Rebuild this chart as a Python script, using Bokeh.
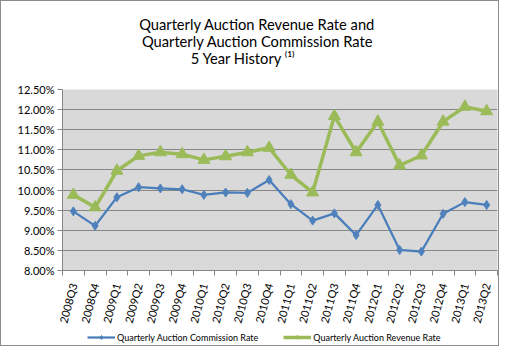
from bokeh.plotting import figure
from bokeh.layouts import column
from bokeh.models import (Range1d, FixedTicker, PrintfTickFormatter, Legend, LegendItem, Label)
from bokeh.embed import file_html
from bokeh.resources import INLINE

quarters = ["2008Q3", "2008Q4", "2009Q1", "2009Q2", "2009Q3", "2009Q4",
            "2010Q1", "2010Q2", "2010Q3", "2010Q4", "2011Q1", "2011Q2",
            "2011Q3", "2011Q4", "2012Q1", "2012Q2", "2012Q3", "2012Q4",
            "2013Q1", "2013Q2"]
commission_rate = [9.47, 9.11, 9.82, 10.07, 10.04, 10.02, 9.88, 9.94, 9.93, 10.25,
                   9.65, 9.24, 9.42, 8.88, 9.63, 8.51, 8.47, 9.41, 9.70, 9.63]
revenue_rate = [9.88, 9.57, 10.48, 10.85, 10.94, 10.89, 10.75, 10.84, 10.94, 11.05,
                10.38, 9.94, 11.84, 10.94, 11.70, 10.61, 10.86, 11.70, 12.07, 11.96]
y_ticks = [8.0, 8.5, 9.0, 9.5, 10.0, 10.5, 11.0, 11.5, 12.0, 12.5]
title_lines = ["Quarterly Auction Revenue Rate and",
               "Quarterly Auction Commission Rate",
               "5 Year History \u207d\u00b9\u207e"]
series_names = ["Quarterly Auction Commission Rate", "Quarterly Auction Revenue Rate"]

FONT = "Lato"
GRID = "#868686"
BLUE = "#4A7EBB"
BLUE_M = "#4F81BD"
GREEN = "#9BBB59"
W = 497
BORDERS = dict(min_border_left=61, min_border_right=1)

x = list(range(len(quarters)))
xr = Range1d(-0.5, len(quarters) - 0.5)

# ---- title strip (shares the chart's x range, so frames line up) ----
tp = figure(width=W, height=80, output_backend="svg", toolbar_location=None,
            x_range=xr, y_range=Range1d(80, 0),
            x_axis_type=None, y_axis_type=None,
            min_border_top=0, min_border_bottom=0, **BORDERS)
tp.grid.grid_line_color = None
tp.outline_line_color = None
tp.background_fill_color = "white"
tp.border_fill_color = "white"
title_x = [8.45, 8.47, 7.81]
title_y = [22, 39, 56]
for t, tx, ty in zip(title_lines, title_x, title_y):
    tp.add_layout(Label(x=tx, y=ty, text=t, text_align="center", text_baseline="middle",
                        text_font=FONT, text_font_size="14.7px", text_color="black"))

# ---- main chart ----
p = figure(width=W, height=248, output_backend="svg", toolbar_location=None,
           x_range=xr, y_range=Range1d(8.0, 12.5),
           min_border_top=8, min_border_bottom=56, **BORDERS)
p.background_fill_color = "#D9D9D9"
p.border_fill_color = "white"
p.outline_line_color = None

p.yaxis.ticker = FixedTicker(ticks=y_ticks)
p.yaxis.formatter = PrintfTickFormatter(format="%.2f%%")
p.yaxis.axis_line_color = GRID
p.yaxis.major_tick_line_color = GRID
p.yaxis.major_tick_out = 5
p.yaxis.major_tick_in = 0
p.yaxis.minor_tick_line_color = None
p.yaxis.major_label_text_font = FONT
p.yaxis.major_label_text_font_size = "11px"
p.yaxis.major_label_text_color = "black"
p.yaxis.major_label_standoff = 3

p.xaxis.ticker = FixedTicker(ticks=x, minor_ticks=[i - 0.5 for i in range(len(quarters) + 1)])
p.xaxis.major_label_overrides = {i: q for i, q in enumerate(quarters)}
p.xaxis.major_label_orientation = 1.31
p.xaxis.axis_line_color = GRID
p.xaxis.major_tick_line_color = None
p.xaxis.major_tick_out = 0
p.xaxis.major_tick_in = 0
p.xaxis.minor_tick_line_color = GRID
p.xaxis.minor_tick_out = 5
p.xaxis.minor_tick_in = 0
p.xaxis.major_label_text_font = FONT
p.xaxis.major_label_text_font_size = "11px"
p.xaxis.major_label_text_color = "black"
p.xaxis.major_label_standoff = 8

p.xgrid.grid_line_color = None
p.ygrid.grid_line_color = GRID
p.ygrid.grid_line_width = 1

line_kw = [dict(line_color=BLUE, line_width=2.25), dict(line_color=GREEN, line_width=3.5)]
mark_kw = [dict(marker="diamond", size=9, fill_color=BLUE_M, line_color=BLUE_M),
           dict(marker="triangle", size=12, fill_color=GREEN, line_color=GREEN)]

p.line(x, commission_rate, **line_kw[0])
p.scatter(x, commission_rate, **mark_kw[0])
p.line(x, revenue_rate, **line_kw[1])
p.scatter(x, revenue_rate, **mark_kw[1])

# ---- legend strip ----
lg = figure(width=W, height=16, output_backend="svg", toolbar_location=None,
            x_range=Range1d(0, 1), y_range=Range1d(0, 1),
            x_axis_type=None, y_axis_type=None,
            min_border_top=0, min_border_bottom=0, **BORDERS)
lg.grid.grid_line_color = None
lg.outline_line_color = None
lg.background_fill_color = "white"
lg.border_fill_color = "white"
r1 = [lg.line(x, commission_rate, **line_kw[0]), lg.scatter(x, commission_rate, **mark_kw[0])]
r2 = [lg.line(x, revenue_rate, **line_kw[1]), lg.scatter(x, revenue_rate, **mark_kw[1])]
legend = Legend(items=[LegendItem(label=series_names[0], renderers=r1),
                       LegendItem(label=series_names[1], renderers=r2)],
                orientation="horizontal", location=(25, 2),
                label_text_font=FONT, label_text_font_size="9px", label_text_color="black",
                glyph_width=28, glyph_height=10, label_height=12, label_standoff=2, spacing=25,
                border_line_color=None, background_fill_alpha=0, padding=0, margin=0)
lg.add_layout(legend, "center")

layout = column(tp, p, lg, spacing=0, styles={"border": "1px solid #8c8c8c"})

open("out.html", "w").write(file_html(layout, INLINE))
